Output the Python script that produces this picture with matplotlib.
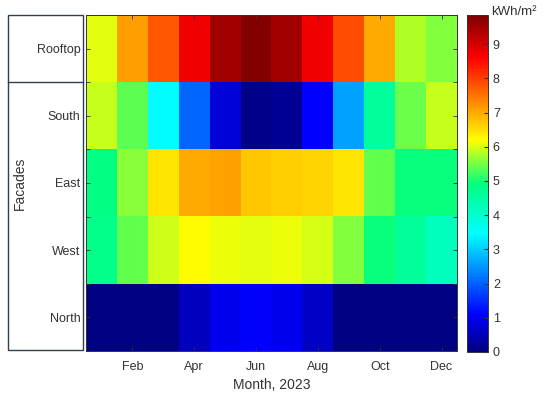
import numpy as np
import matplotlib
matplotlib.use("Agg")
import matplotlib.pyplot as plt
from matplotlib.patches import Rectangle
from matplotlib.lines import Line2D
from matplotlib.colors import LinearSegmentedColormap

plt.rcParams['font.family'] = ['Liberation Sans', 'DejaVu Sans']

months = ["Jan", "Feb", "Mar", "Apr", "May", "Jun", "Jul", "Aug", "Sep", "Oct", "Nov", "Dec"]
facades = ["Rooftop", "South", "East", "West", "North"]
rooftop = [6.05, 7.1, 7.75, 8.7, 9.5, 9.8, 9.5, 8.7, 7.85, 7.0, 5.8, 5.55]
south   = [5.9, 5.35, 3.45, 2.05, 0.8, 0.1, 0.2, 1.1, 2.6, 4.6, 5.45, 5.9]
east    = [4.85, 5.6, 6.45, 7.0, 7.05, 6.7, 6.65, 6.6, 6.45, 5.4, 4.95, 4.95]
west    = [4.8, 5.4, 5.95, 6.2, 6.1, 6.05, 6.1, 6.0, 5.55, 4.95, 4.6, 4.2]
north   = [0.05, 0.05, 0.05, 0.55, 1.0, 1.1, 1.0, 0.65, 0.05, 0.05, 0.05, 0.05]
xtick_labels = ["Feb", "Apr", "Jun", "Aug", "Oct", "Dec"]
cbar_ticks = list(range(0, 10))
vmin, vmax = 0, 9.85

data = np.array([rooftop, south, east, west, north])

# jet-like colormap matching the reference colorbar
anchors = [(0.0, (0, 0, 0.5)), (1.1, (0, 0, 1)), (3.45, (0, 1, 1)),
           (4.9, (0, 1, 0.5)), (6.2, (1, 1, 0)), (8.6, (1, 0, 0)),
           (9.85, (0.5, 0, 0))]
cmap = LinearSegmentedColormap.from_list(
    "refjet", [((v - vmin) / (vmax - vmin), c) for v, c in anchors], N=256)

W, H = 550, 399
fig = plt.figure(figsize=(W / 100, H / 100), dpi=100)
ax = fig.add_axes([86 / W, 1 - 351 / H, (457 - 86) / W, (351 - 15) / H])
im = ax.imshow(data, cmap=cmap, vmin=vmin, vmax=vmax, aspect="auto",
               interpolation="nearest")
ax.set_yticks(range(len(facades)))
ax.set_yticklabels(facades, fontsize=9, color="#333333")
ax.set_yticks(np.arange(-0.5, len(facades), 1), minor=True)
xt = [months.index(m) for m in xtick_labels]
ax.set_xticks(xt)
ax.set_xticklabels(xtick_labels, fontsize=9, color="#333333")
ax.tick_params(axis="both", which="both", direction="in", length=3, width=0.6,
               top=True, right=True, color="#333333")
ax.tick_params(axis="x", pad=7)
ax.tick_params(axis="y", pad=4)
ax.set_xlabel("Month, 2023", fontsize=10, color="#333333", labelpad=4)
for s in ax.spines.values():
    s.set_color("#333333")
    s.set_linewidth(0.7)

cax = fig.add_axes([467 / W, 1 - 352 / H, 21 / W, (352 - 15) / H])
cb = fig.colorbar(im, cax=cax, ticks=cbar_ticks)
cb.ax.tick_params(labelsize=9, colors="#333333", length=3, direction="in")
cb.outline.set_edgecolor("#333333")
cb.outline.set_linewidth(0.7)
fig.text(491 / W, 1 - 12 / H, "kWh/m²", fontsize=9.5, color="#333333",
         ha="left", va="center")

# facade bracket boxes
edge = "#2f4050"
fig.add_artist(Rectangle((8 / W, 1 - 350 / H), (83 - 8) / W, (350 - 15) / H,
                         transform=fig.transFigure, fill=False, edgecolor=edge,
                         linewidth=1.0))
fig.add_artist(Line2D([8 / W, 83 / W], [1 - 82 / H, 1 - 82 / H],
                      transform=fig.transFigure, color=edge, linewidth=1.0))
fig.text(20 / W, 1 - 183 / H, "Facades", rotation=90, fontsize=10,
         color="#333333", ha="center", va="center")

fig.savefig("out.png", dpi=100)
